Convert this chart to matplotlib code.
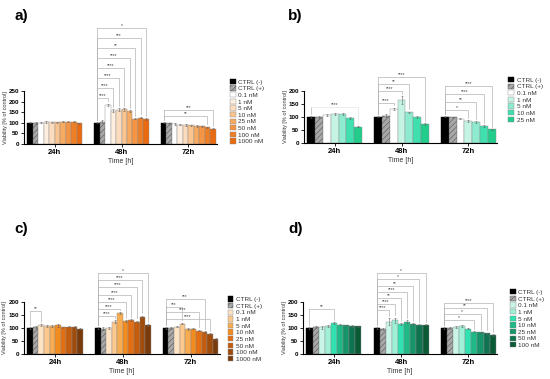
import matplotlib
matplotlib.use("Agg")
import matplotlib.pyplot as plt
import numpy as np

plt.rcParams['font.family'] = ['Liberation Sans', 'DejaVu Sans']
plt.rcParams['hatch.linewidth'] = 0.4

times = ["24h", "48h", "72h"]

# ---- panel a
labels_a = ["CTRL (-)", "CTRL (+)", "0.1 nM", "1 nM", "5 nM", "10 nM",
            "25 nM", "50 nM", "100 nM", "1000 nM"]
vals_a = [[100, 100, 100, 103, 102, 103, 105, 106, 106, 97],
          [100, 105, 185, 157, 162, 163, 155, 120, 125, 118],
          [100, 98, 95, 92, 90, 88, 85, 83, 78, 73]]
errs_a = [[3, 6, 3, 4, 3, 3, 3, 3, 3, 2],
          [2, 6, 5, 8, 6, 6, 5, 3, 3, 3],
          [2, 3, 3, 3, 3, 3, 3, 3, 3, 3]]
colors_a = ['black', '#a8a8a8', 'white', '#fdeedf', '#fbdcbf', '#f9c490',
            '#f6aa62', '#f39544', '#ef7f25', '#e86b12']
# (group, target bar, stars, level, faint)
brackets_a = [(1, 2, "****", 217, 0), (1, 3, "****", 264, 0), (1, 4, "****", 311, 0),
              (1, 5, "****", 358, 0), (1, 6, "****", 406, 0), (1, 7, "**", 453, 0),
              (1, 8, "***", 500, 0), (1, 9, "*", 547, 0),
              (2, 8, "**", 132, 0), (2, 9, "***", 160, 0)]

# ---- panel b
labels_b = ["CTRL (-)", "CTRL (+)", "0.1 nM", "1 nM", "5 nM", "10 nM", "25 nM"]
vals_b = [[100, 100, 107, 110, 112, 97, 62],
          [100, 105, 132, 165, 118, 100, 72],
          [100, 99, 93, 85, 80, 65, 52]]
errs_b = [[3, 4, 3, 4, 4, 3, 2],
          [2, 7, 4, 15, 3, 3, 3],
          [2, 2, 2, 3, 3, 3, 2]]
colors_b = ['black', '#a8a8a8', 'white', '#c6f4e4', '#8febcf', '#3fdfae', '#22cc8a']
brackets_b = [(0, 6, "****", 138, 1),
              (1, 2, "****", 152, 0), (1, 3, "****", 198, 0), (1, 4, "**", 226, 0),
              (1, 6, "****", 254, 0),
              (2, 3, "*", 127, 0), (2, 4, "**", 158, 0), (2, 5, "****", 188, 0),
              (2, 6, "****", 219, 0)]

# ---- panel c
labels_c = labels_a
vals_c = [[100, 103, 111, 109, 108, 110, 102, 105, 103, 97],
          [100, 98, 100, 125, 157, 128, 130, 125, 143, 110],
          [100, 100, 105, 117, 97, 98, 90, 85, 77, 57]]
errs_c = [[2, 3, 4, 4, 3, 6, 3, 3, 3, 2],
          [2, 4, 3, 4, 3, 3, 3, 3, 4, 4],
          [2, 2, 3, 3, 3, 3, 3, 3, 3, 3]]
colors_c = ['black', '#a8a8a8', '#fde2c4', '#fbc88e', '#f7ac52', '#f38c1e',
            '#e46e12', '#c45c0e', '#9f4c0c', '#7a3b0c']
brackets_c = [(0, 2, "**", 165, 0),
              (1, 3, "****", 145, 0), (1, 4, "****", 173, 0), (1, 5, "****", 200, 0),
              (1, 6, "****", 228, 0), (1, 7, "****", 256, 0), (1, 8, "****", 283, 0),
              (1, 9, "*", 311, 0),
              (2, 8, "****", 135, 0), (2, 6, "****", 160, 0), (2, 3, "***", 180, 0),
              (2, 7, "***", 212, 0)]

# ---- panel d
labels_d = ["CTRL (-)", "CTRL (+)", "0.1 nM", "1 nM", "5 nM", "10 nM",
            "25 nM", "50 nM", "100 nM"]
vals_d = [[100, 103, 103, 108, 120, 113, 110, 108, 107],
          [100, 97, 125, 130, 115, 125, 115, 113, 113],
          [100, 100, 103, 107, 98, 85, 83, 80, 73]]
errs_d = [[2, 3, 5, 3, 3, 3, 3, 3, 2],
          [2, 4, 12, 10, 3, 4, 3, 3, 3],
          [2, 2, 3, 4, 3, 2, 2, 2, 2]]
colors_d = ['black', '#a8a8a8', '#c8f5e7', '#9ff0d7', '#30e2b0', '#1fb987',
            '#16956b', '#0f7350', '#0a5a36']
brackets_d = [(0, 4, "**", 173, 0),
              (1, 2, "****", 169, 0), (1, 3, "****", 192, 0), (1, 4, "**", 215, 0),
              (1, 5, "****", 238, 0), (1, 6, "**", 262, 0), (1, 7, "*", 288, 0),
              (1, 8, "*", 312, 0),
              (2, 5, "*", 131, 0), (2, 6, "*", 153, 0), (2, 7, "**", 176, 0),
              (2, 8, "****", 198, 0)]

group_w = 0.82

fig = plt.figure(figsize=(5.5, 3.79), dpi=100)


def panel(rect, ytop, spine_top, labels, vals, errs, colors, brackets,
          letter, letter_xy, leg_xy):
    ax = fig.add_axes(rect)
    n = len(labels)
    groups = np.arange(len(times))
    w = group_w / n
    for i in range(n):
        x = groups - group_w / 2 + w * (i + 0.5)
        h = [vals[g][i] for g in groups]
        e = [errs[g][i] for g in groups]
        if i == 0:
            ec = 'black'
        elif i == 1:
            ec = '#555555'
        else:
            ec = '#8a8a8a'
        ax.bar(x, h, w, yerr=e, color=colors[i], edgecolor=ec, linewidth=0.3,
               hatch='//////' if i == 1 else None, label=labels[i],
               error_kw=dict(lw=0.4, capsize=0.8, capthick=0.4, ecolor='#666666'))

    gap = 0.045 * spine_top
    for g, t, lab, lev, faint in brackets:
        x0 = g - group_w / 2 + w * 0.5
        x1 = g - group_w / 2 + w * (t + 0.5)
        y0 = vals[g][0] + errs[g][0] + gap
        y1 = vals[g][t] + errs[g][t] + gap
        col = '#e6e6e6' if faint else '#b4b4b4'
        ax.plot([x0, x0], [y0, lev], color='#b4b4b4', lw=0.5, clip_on=False)
        ax.plot([x0, x1, x1], [lev, lev, y1], color=col, lw=0.5, clip_on=False)
        ax.text((x0 + x1) / 2, lev, lab, ha='center', va='bottom',
                fontsize=3.5, color='#444444')

    ax.set_xlim(-0.46, 2.43)
    ax.set_ylim(0, ytop)
    ax.spines['top'].set_visible(False)
    ax.spines['right'].set_visible(False)
    ax.spines['left'].set_bounds(0, spine_top)
    ax.spines['left'].set_linewidth(0.8)
    ax.spines['bottom'].set_linewidth(0.8)
    ax.set_yticks(np.arange(0, spine_top + 1, 50))
    ax.set_xticks(groups)
    ax.set_xticklabels(times, fontsize=5.5, fontweight='bold')
    for lbl in ax.get_yticklabels():
        lbl.set_fontsize(4.5)
        lbl.set_fontweight('bold')
    ax.tick_params(axis='both', length=2, width=0.6, pad=1.5)
    ax.set_xlabel("Time [h]", fontsize=5, labelpad=1.5, color='#333333')
    ax.set_ylabel("Viability [% of control]", fontsize=4, color='#333333')
    ax.yaxis.set_label_coords(-0.085, (spine_top / 2) / ytop)

    ax.legend(loc='upper left', bbox_to_anchor=leg_xy, bbox_transform=fig.transFigure,
              frameon=False, fontsize=4.6, handlelength=0.9, handleheight=0.9,
              labelspacing=0.12, handletextpad=0.4, borderaxespad=0, borderpad=0,
              labelcolor='#333333')
    fig.text(letter_xy[0], letter_xy[1], letter, fontsize=11, fontweight='bold',
             ha='left', va='center')
    return ax


panel([0.0436, 0.620, 0.351, 0.3325], 594, 250, labels_a, vals_a, errs_a, colors_a,
      brackets_a, "a)", (0.027, 0.958), (0.418, 0.792))
panel([0.5527, 0.6227, 0.351, 0.219], 319, 200, labels_b, vals_b, errs_b, colors_b,
      brackets_b, "b)", (0.524, 0.958), (0.924, 0.797))
panel([0.0436, 0.066, 0.356, 0.2427], 354, 200, labels_c, vals_c, errs_c, colors_c,
      brackets_c, "c)", (0.027, 0.396), (0.414, 0.218))
panel([0.551, 0.066, 0.353, 0.2427], 354, 200, labels_d, vals_d, errs_d, colors_d,
      brackets_d, "d)", (0.524, 0.396), (0.927, 0.237))

fig.savefig("out.png", dpi=100)
